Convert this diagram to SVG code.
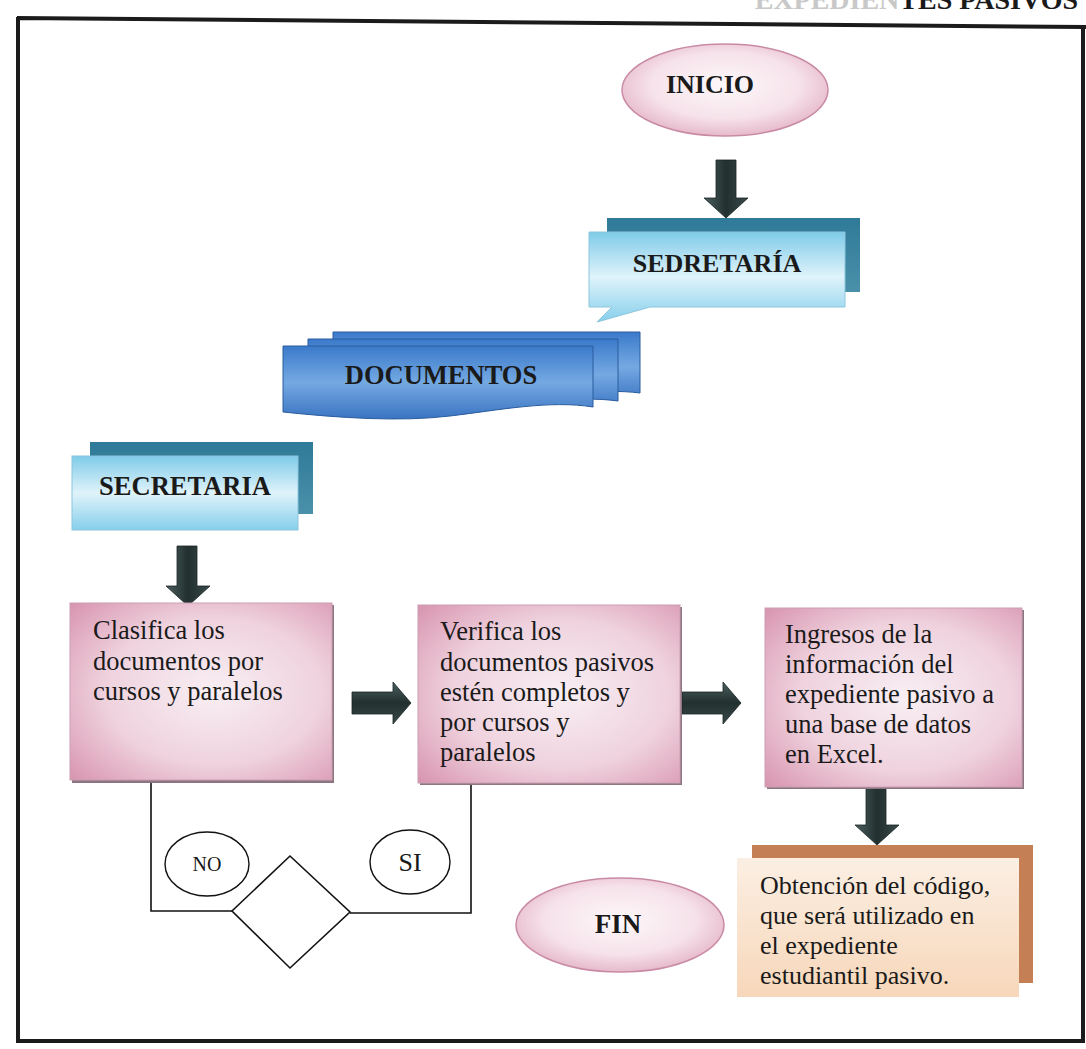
<svg xmlns="http://www.w3.org/2000/svg" width="1086" height="1049" viewBox="0 0 1086 1049">
<defs>
<style>
.t{font-family:"Liberation Serif","Times New Roman",serif;fill:#1a1a1a}
.b{font-weight:bold}
.frame{fill:none;stroke:#1b1b1b;stroke-width:4}
.line{fill:none;stroke:#111;stroke-width:1.6}
.arrow{fill:url(#arrowG);stroke:#1a2424;stroke-width:0.8}
.pbox{fill:url(#pinkBox);stroke:#c9a0b2;stroke-width:1}
.shadow{fill:#8c7480}
.body{font-size:26.5px}
</style>
<radialGradient id="pinkEll" cx="50%" cy="45%" r="60%">
<stop offset="0" stop-color="#fdf8fa"/><stop offset="0.6" stop-color="#f6e2ea"/><stop offset="1" stop-color="#e2afc3"/>
</radialGradient>
<radialGradient id="pinkBox" cx="55%" cy="50%" r="75%">
<stop offset="0" stop-color="#f8eff3"/><stop offset="0.55" stop-color="#efd2de"/><stop offset="1" stop-color="#d792ad"/>
</radialGradient>
<linearGradient id="cyanG" x1="0" y1="0" x2="0" y2="1">
<stop offset="0" stop-color="#7fcbe9"/><stop offset="0.5" stop-color="#dff3fa"/><stop offset="1" stop-color="#86cfec"/>
</linearGradient>
<linearGradient id="tealG" x1="0" y1="0" x2="0" y2="1">
<stop offset="0" stop-color="#2f7a98"/><stop offset="1" stop-color="#4a90ab"/>
</linearGradient>
<linearGradient id="blueG" x1="0" y1="0" x2="0" y2="1">
<stop offset="0" stop-color="#3b7acb"/><stop offset="0.5" stop-color="#74a9e2"/><stop offset="1" stop-color="#3a74c2"/>
</linearGradient>
<linearGradient id="arrowG" x1="0" y1="0" x2="1" y2="0">
<stop offset="0" stop-color="#4b5f5f"/><stop offset="0.5" stop-color="#22302f"/><stop offset="1" stop-color="#3a4a4a"/>
</linearGradient>
<linearGradient id="arrowH" x1="0" y1="0" x2="0" y2="1">
<stop offset="0" stop-color="#4b5f5f"/><stop offset="0.5" stop-color="#22302f"/><stop offset="1" stop-color="#3a4a4a"/>
</linearGradient>
<linearGradient id="peachG" x1="0" y1="0" x2="0" y2="1">
<stop offset="0" stop-color="#fbefe3"/><stop offset="1" stop-color="#f7d7ba"/>
</linearGradient>
<clipPath id="clipObt"><rect x="737" y="858" width="282" height="133"/></clipPath>
</defs>

<rect width="1086" height="1049" fill="#ffffff"/>

<text class="t b" x="1078" y="9" text-anchor="end" font-size="28"><tspan fill="#c8c8c8">EXPEDIEN</tspan>TES PASIVOS</text>

<path class="frame" d="M17,18 L1086,27 M18,17 V1041 H1083 V27"/>

<g id="connectors">
<polygon class="arrow" points="716,160 736,160 736,198 748,198 726,218 704,198 716,198"/>
<polygon class="arrow" points="177,546 197,546 197,586 210,586 188,606 166,586 177,586"/>
<polygon class="arrow" style="fill:url(#arrowH)" points="352,692 393,692 393,682 411,703 393,724 393,714 352,714"/>
<polygon class="arrow" style="fill:url(#arrowH)" points="682,692 723,692 723,682 741,703 723,724 723,714 682,714"/>
<polygon class="arrow" points="866,787 886,787 886,825 899,825 877,845 855,825 866,825"/>
<polyline class="line" points="151,781 151,911 232,911"/>
<polyline class="line" points="471,784 471,913 350,913"/>
</g>

<g id="inicio">
<ellipse cx="725" cy="90" rx="103" ry="46" fill="url(#pinkEll)" stroke="#c98aa4" stroke-width="1.5"/>
<text class="t b" x="710" y="93" text-anchor="middle" font-size="26">INICIO</text>
</g>

<g id="sedretaria">
<rect x="607" y="218" width="253" height="74" fill="url(#tealG)"/>
<path d="M589,232 H845 V307 H650 L597,322 L612,307 H589 Z" fill="url(#cyanG)" stroke="#8cc6dc" stroke-width="1"/>
<text class="t b" x="717" y="272" text-anchor="middle" font-size="26">SEDRETARÍA</text>
</g>

<g id="documentos">
<path d="M333,332 H640 V393 C600,388 560,396 520,402 L333,402 Z" fill="url(#blueG)" stroke="#2a5c9e" stroke-width="1"/>
<path d="M308,339 H618 V401 C575,395 530,405 490,410 L308,410 Z" fill="url(#blueG)" stroke="#2a5c9e" stroke-width="1"/>
<path d="M283,346 H593 V407 C550,400 500,410 450,416 C400,422 340,418 283,412 Z" fill="url(#blueG)" stroke="#2a5c9e" stroke-width="1"/>
<text class="t b" x="441" y="384" text-anchor="middle" font-size="26.5">DOCUMENTOS</text>
</g>

<g id="secretaria">
<rect x="90" y="442" width="223" height="72" fill="url(#tealG)"/>
<rect x="72" y="456" width="226" height="74" fill="url(#cyanG)" stroke="#8cc6dc" stroke-width="1"/>
<text class="t b" x="185" y="495" text-anchor="middle" font-size="26.5">SECRETARIA</text>
</g>

<g id="clasifica">
<rect class="shadow" x="72" y="605" width="262" height="178"/>
<rect class="pbox" x="70" y="603" width="262" height="177"/>
<text class="t body"><tspan x="93" y="639">Clasifica los</tspan><tspan x="93" y="670">documentos por</tspan><tspan x="93" y="700">cursos y paralelos</tspan></text>
</g>

<g id="verifica">
<rect class="shadow" x="420" y="607" width="262" height="178"/>
<rect class="pbox" x="418" y="605" width="262" height="178"/>
<text class="t body"><tspan x="440" y="640">Verifica los</tspan><tspan x="440" y="671">documentos pasivos</tspan><tspan x="440" y="701">estén completos y</tspan><tspan x="440" y="731">por cursos y</tspan><tspan x="440" y="761">paralelos</tspan></text>
</g>

<g id="ingresos">
<rect class="shadow" x="767" y="610" width="257" height="179"/>
<rect class="pbox" x="765" y="608" width="257" height="179"/>
<text class="t body"><tspan x="785" y="643">Ingresos de la</tspan><tspan x="785" y="673">información del</tspan><tspan x="785" y="703">expediente pasivo a</tspan><tspan x="785" y="733">una base de datos</tspan><tspan x="785" y="763">en Excel.</tspan></text>
</g>

<g id="decision">
<polygon points="290,856 232,911 290,968 350,912" fill="#ffffff" stroke="#111" stroke-width="1.6"/>
</g>

<g id="no">
<ellipse cx="207" cy="864" rx="42" ry="32" fill="#fff" stroke="#111" stroke-width="1.4"/>
<text class="t" x="207" y="871" text-anchor="middle" font-size="20">NO</text>
</g>

<g id="si">
<ellipse cx="410" cy="862" rx="40" ry="32" fill="#fff" stroke="#111" stroke-width="1.4"/>
<text class="t" x="410" y="871" text-anchor="middle" font-size="26">SI</text>
</g>

<g id="fin">
<ellipse cx="620" cy="925" rx="104" ry="47" fill="url(#pinkEll)" stroke="#c98aa4" stroke-width="1.5"/>
<text class="t b" x="618" y="933" text-anchor="middle" font-size="27">FIN</text>
</g>

<g id="obtencion">
<rect x="752" y="845" width="281" height="138" fill="#c47f55"/>
<rect x="737" y="858" width="282" height="139" fill="url(#peachG)"/>
<g clip-path="url(#clipObt)">
<text class="t" font-size="26"><tspan x="760" y="894">Obtención del código,</tspan><tspan x="760" y="924">que será utilizado en</tspan><tspan x="760" y="954">el expediente</tspan><tspan x="760" y="984">estudiantil pasivo.</tspan></text>
</g>
</g>
</svg>
